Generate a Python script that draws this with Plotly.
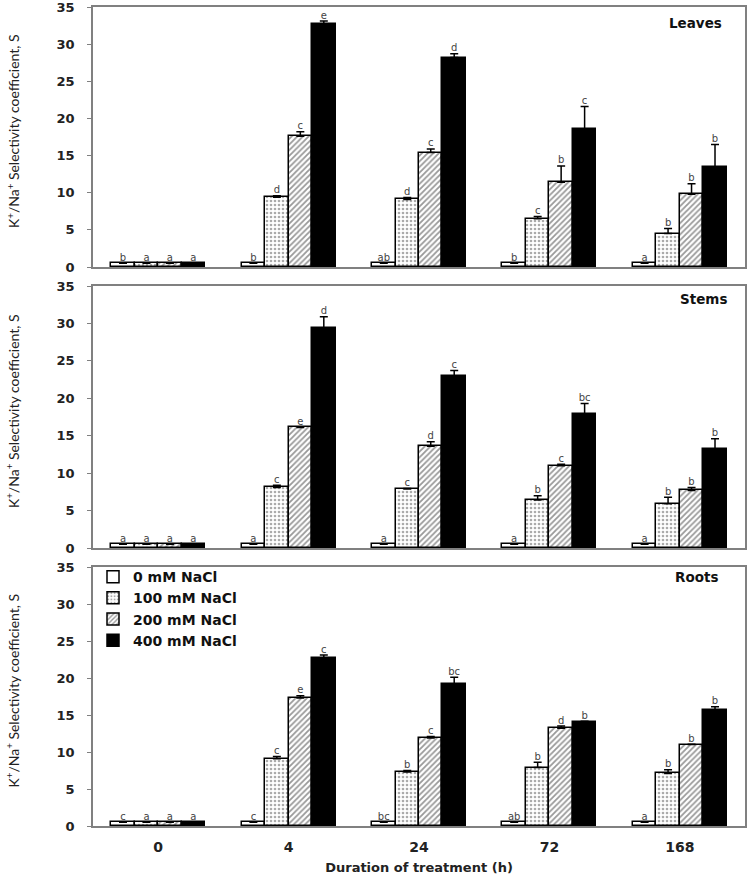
import plotly.graph_objects as go
from plotly.subplots import make_subplots

durations = ["0", "4", "24", "72", "168"]
series_names = ["0 mM NaCl", "100 mM NaCl", "200 mM NaCl", "400 mM NaCl"]
organs = ["Leaves", "Stems", "Roots"]

# Leaves
leaves_0 = [0.5, 0.5, 0.5, 0.5, 0.5]
leaves_100 = [0.5, 9.4, 9.1, 6.5, 4.5]
leaves_200 = [0.5, 17.6, 15.4, 11.4, 9.8]
leaves_400 = [0.5, 32.7, 28.2, 18.6, 13.4]
leaves_0_err = [0, 0, 0, 0, 0]
leaves_100_err = [0, 0.2, 0.25, 0.3, 0.7]
leaves_200_err = [0, 0.6, 0.5, 2.2, 1.4]
leaves_400_err = [0, 0.4, 0.5, 3.0, 3.1]
leaves_0_let = ["b", "b", "ab", "b", "a"]
leaves_100_let = ["a", "d", "d", "c", "b"]
leaves_200_let = ["a", "c", "c", "b", "b"]
leaves_400_let = ["a", "e", "d", "c", "b"]

# Stems
stems_0 = [0.5, 0.5, 0.5, 0.5, 0.5]
stems_100 = [0.5, 8.1, 7.9, 6.4, 5.9]
stems_200 = [0.5, 16.1, 13.6, 11.0, 7.7]
stems_400 = [0.5, 29.4, 23.0, 17.9, 13.2]
stems_0_err = [0, 0, 0, 0, 0]
stems_100_err = [0, 0.3, 0.05, 0.6, 0.9]
stems_200_err = [0, 0.05, 0.6, 0.2, 0.4]
stems_400_err = [0, 1.5, 0.7, 1.4, 1.4]
stems_0_let = ["a", "a", "a", "a", "a"]
stems_100_let = ["a", "c", "c", "b", "b"]
stems_200_let = ["a", "e", "d", "c", "b"]
stems_400_let = ["a", "d", "c", "bc", "b"]

# Roots
roots_0 = [0.5, 0.5, 0.5, 0.5, 0.5]
roots_100 = [0.5, 9.1, 7.3, 7.9, 7.1]
roots_200 = [0.5, 17.3, 11.9, 13.2, 11.0]
roots_400 = [0.5, 22.7, 19.2, 14.05, 15.7]
roots_0_err = [0, 0, 0, 0, 0]
roots_100_err = [0, 0.3, 0.2, 0.7, 0.5]
roots_200_err = [0, 0.3, 0.2, 0.3, 0.05]
roots_400_err = [0, 0.4, 0.9, 0.1, 0.4]
roots_0_let = ["c", "c", "bc", "ab", "a"]
roots_100_let = ["a", "c", "b", "b", "b"]
roots_200_let = ["a", "e", "c", "d", "b"]
roots_400_let = ["a", "c", "bc", "b", "b"]

y_ticks = [0, 5, 10, 15, 20, 25, 30, 35]

panels = [
    ([leaves_0, leaves_100, leaves_200, leaves_400],
     [leaves_0_err, leaves_100_err, leaves_200_err, leaves_400_err],
     [leaves_0_let, leaves_100_let, leaves_200_let, leaves_400_let]),
    ([stems_0, stems_100, stems_200, stems_400],
     [stems_0_err, stems_100_err, stems_200_err, stems_400_err],
     [stems_0_let, stems_100_let, stems_200_let, stems_400_let]),
    ([roots_0, roots_100, roots_200, roots_400],
     [roots_0_err, roots_100_err, roots_200_err, roots_400_err],
     [roots_0_let, roots_100_let, roots_200_let, roots_400_let]),
]

styles = [
    dict(color="white", pattern=dict(shape="")),
    dict(color="white", pattern=dict(shape=".", fgcolor="#555555", bgcolor="white", size=4, solidity=0.35)),
    dict(color="white", pattern=dict(shape="/", fgcolor="#333333", bgcolor="white", size=4, solidity=0.45)),
    dict(color="black", pattern=dict(shape="")),
]

bar_w = 0.18
group_idx = list(range(len(durations)))

fig = make_subplots(rows=3, cols=1, shared_xaxes=True, vertical_spacing=0.02)

for r, (vals, errs, lets) in enumerate(panels, start=1):
    for k in range(4):
        off = (k - 2) * bar_w
        fig.add_trace(go.Bar(
            x=group_idx, y=vals[k], width=bar_w, offset=off,
            name=series_names[k], legendgroup=series_names[k],
            showlegend=(r == 3),
            marker=dict(color=styles[k]["color"], pattern=styles[k]["pattern"],
                        line=dict(color="black", width=1.5)),
            error_y=dict(type="data", symmetric=False, array=errs[k],
                         arrayminus=[0] * len(errs[k]), color="black",
                         thickness=1.5, width=4, visible=True),
        ), row=r, col=1)
        fig.add_trace(go.Scatter(
            x=[i + off + bar_w / 2 for i in group_idx],
            y=[v + e for v, e in zip(vals[k], errs[k])],
            text=lets[k], mode="text", textposition="top center",
            textfont=dict(family="DejaVu Sans", size=10, color="#444444"),
            showlegend=False, hoverinfo="skip", cliponaxis=False,
        ), row=r, col=1)

domains = [[0.6825, 1.0], [0.3394, 0.6593], [0.0, 0.3162]]
axis_line = dict(showline=True, linecolor="#808080", linewidth=1.5, mirror=True,
                 showgrid=False, zeroline=False, automargin=False)
for r in range(1, 4):
    fig.update_yaxes(domain=domains[r - 1], range=[0, 35], tickvals=y_ticks,
                     ticktext=["<b>%d</b>" % t for t in y_ticks],
                     tickfont=dict(family="DejaVu Sans", size=13, color="#222222"),
                     ticks="outside", ticklen=4, tickcolor="#808080", tickwidth=1,
                     ticklabelstandoff=10, ticklabeloverflow="allow",
                     **axis_line, row=r, col=1)
    fig.update_xaxes(range=[-0.5, 4.5], tickvals=group_idx,
                     ticktext=["<b>%s</b>" % d for d in durations],
                     tickfont=dict(family="DejaVu Sans", size=14, color="#222222"),
                     ticks="", ticklabelstandoff=7,
                     showticklabels=(r == 3), **axis_line, row=r, col=1)

fig.update_xaxes(title=dict(text="<b>Duration of treatment (h)</b>",
                            font=dict(family="DejaVu Sans", size=13, color="#222222"),
                            standoff=9), row=3, col=1)

ytitle = "K<sup>+</sup>/Na<sup>+</sup> Selectivity coefficient, S"
title_pos = [(0.968, 0.938), (0.975, 0.95), (0.962, 0.961)]
for r in range(1, 4):
    dom = domains[r - 1]
    fig.add_annotation(text=ytitle, textangle=-90, xref="paper", yref="paper",
                       x=-0.123, y=(dom[0] + dom[1]) / 2 + 0.007, showarrow=False,
                       xanchor="center", yanchor="middle",
                       font=dict(family="Lato", size=14, color="#222222"))
    ax = "" if r == 1 else str(r)
    fig.add_annotation(text="<b>%s</b>" % organs[r - 1],
                       xref="x%s domain" % ax, yref="y%s domain" % ax,
                       x=title_pos[r - 1][0], y=title_pos[r - 1][1],
                       xanchor="right", yanchor="middle", showarrow=False,
                       font=dict(family="DejaVu Sans", size=13.5, color="#111111"))

fig.update_layout(
    width=750, height=877,
    margin=dict(l=93, r=5, t=7, b=51, autoexpand=False),
    paper_bgcolor="white", plot_bgcolor="white",
    barmode="overlay", bargap=0,
    legend=dict(x=0.0, y=0.3235, xanchor="left", yanchor="top",
                font=dict(family="DejaVu Sans", size=14, color="#111111", weight="bold"),
                bgcolor="rgba(0,0,0,0)", tracegroupgap=0, itemwidth=30,
                traceorder="normal"),
    showlegend=True,
)

fig.write_html("out.html", config={"displayModeBar": False},
               post_script="document.body.style.margin='0';")
